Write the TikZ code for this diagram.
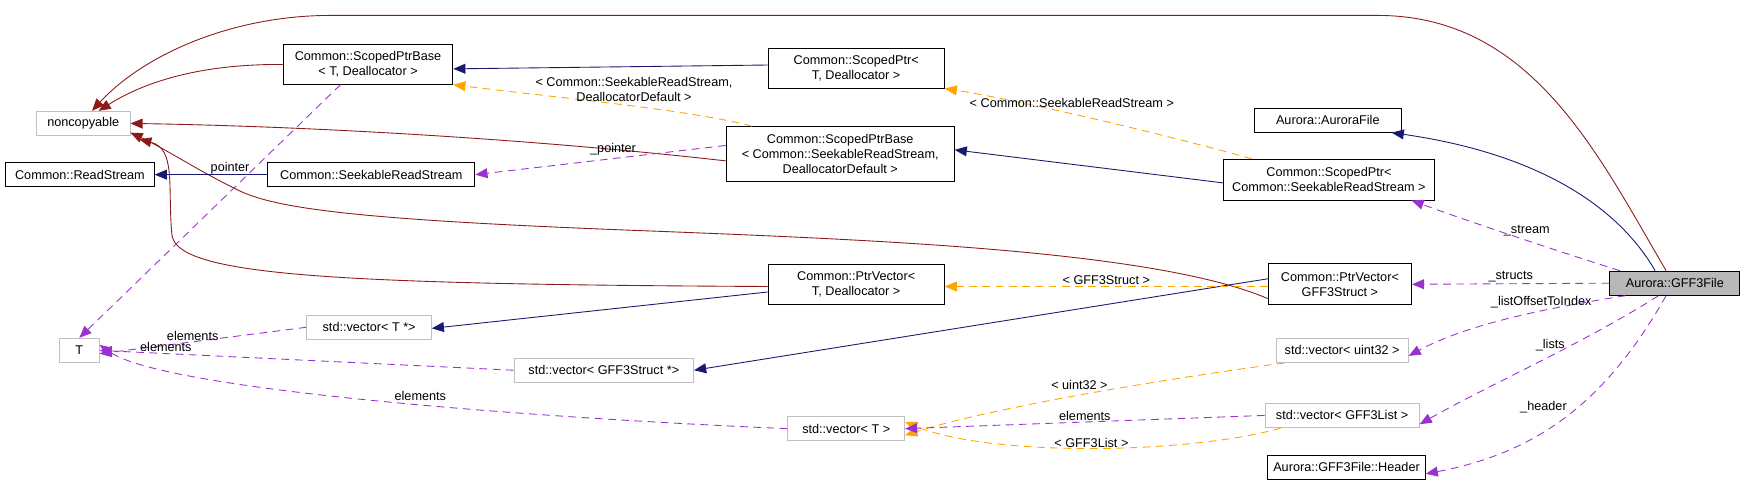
\documentclass[tikz,border=0pt]{standalone}
\usepackage{fontspec}
\setmainfont{Liberation Sans}
\usetikzlibrary{arrows.meta}
\definecolor{inhc}{HTML}{8B1A1A}
\definecolor{navyc}{HTML}{191970}
\definecolor{usec}{HTML}{9A32CD}
\definecolor{tplc}{HTML}{FFA500}
\begin{document}
\begin{tikzpicture}[x=1pt,y=-1pt,
  every node/.style={font=\fontsize{11.5}{13.5}\selectfont},
  box/.style={draw=black,thick,align=center,inner sep=0pt,minimum height=22pt},
  gbox/.style={box,draw=black!25},
  inh/.style={draw=inhc,thick,-{Triangle[length=11pt,width=9pt]}},
  nav/.style={draw=navyc,thick,-{Triangle[length=11pt,width=9pt]}},
  use/.style={draw=usec,thick,dashed,dash pattern=on 7pt off 5pt,-{Triangle[length=11pt,width=9pt]}},
  tpl/.style={draw=tplc,thick,dashed,dash pattern=on 7pt off 5pt,-{Triangle[length=11pt,width=9pt]}},
  lbl/.style={inner sep=1pt}]
\useasboundingbox (0,0) rectangle (1580,438);
\node[gbox,minimum width=85pt] (nc) at (75.5,112) {noncopyable};
\node[box,minimum width=135pt] (rs) at (72.5,158.5) {Common::ReadStream};
\node[gbox,minimum width=36pt] (T) at (72,318) {T};
\node[box,minimum width=154pt,minimum height=36pt] (spbT) at (334,58.5) {Common::ScopedPtrBase\\< T, Deallocator >};
\node[box,minimum width=188pt] (srs) at (337,158.5) {Common::SeekableReadStream};
\node[box,minimum width=160pt,minimum height=36pt] (spT) at (777,62) {Common::ScopedPtr<\\T, Deallocator >};
\node[box,minimum width=207pt,minimum height=50pt] (spbS) at (762.5,140) {Common::ScopedPtrBase\\< Common::SeekableReadStream,\\DeallocatorDefault >};
\node[box,minimum width=134pt] (af) at (1205,109) {Aurora::AuroraFile};
\node[box,minimum width=191pt,minimum height=37pt] (spS) at (1206,163) {Common::ScopedPtr<\\Common::SeekableReadStream >};
\node[box,minimum width=160pt,minimum height=36pt] (pvT) at (777,258) {Common::PtrVector<\\T, Deallocator >};
\node[box,minimum width=130pt,minimum height=37pt] (pvS) at (1216,258) {Common::PtrVector<\\GFF3Struct >};
\node[box,fill=black!28,minimum width=118pt] (gff) at (1520,257) {Aurora::GFF3File};
\node[gbox,minimum width=113pt] (vTp) at (335,297) {std::vector< T *>};
\node[gbox,minimum width=163pt] (vSp) at (548,336) {std::vector< GFF3Struct *>};
\node[gbox,minimum width=120pt] (vU) at (1218,318) {std::vector< uint32 >};
\node[gbox,minimum width=106pt] (vT) at (768,389) {std::vector< T >};
\node[gbox,minimum width=140pt] (vL) at (1218,377) {std::vector< GFF3List >};
\node[box,minimum width=143pt] (hd) at (1222,424) {Aurora::GFF3File::Header};
% inheritance to noncopyable
\draw[inh] ([xshift=-8]gff.north) .. controls (1450,140) and (1390,14) .. (1250,14) -- (300,14) .. controls (210,14) and (130,50) .. ([xshift=8]nc.north);
\draw[inh] (spbT.west) .. controls (180,58) and (130,75) .. ([xshift=14]nc.north);
\draw[inh] ([yshift=-6]spbS.west) .. controls (500,128) and (300,115) .. (nc.east);
\draw[inh] ([yshift=-13]pvS.west) .. controls (1050,228) and (800,218) .. (600,210) .. controls (330,200) and (250,190) .. (215,172) .. controls (180,155) and (150,135) .. ([yshift=3]nc.south east);
\draw[inh] ([yshift=-2]pvT.west) .. controls (300,258) and (160,250) .. (156,213) .. controls (152,170) and (160,135) .. ([xshift=8,yshift=-3]nc.south east);
% navy inheritance
\draw[nav] ([yshift=3]spT.west) -- ([yshift=-4]spbT.east);
\draw[nav] (srs.west) -- (rs.east);
\draw[nav] ([yshift=-3]spS.west) -- ([yshift=4]spbS.east);
\draw[nav] ([xshift=-18]gff.north) .. controls (1470,190) and (1400,140) .. ([xshift=58]af.south);
\draw[nav] ([yshift=-7]pvT.west) -- ([yshift=-1]vTp.east);
\draw[nav] ([yshift=5]pvS.west) -- (vSp.east);
% template instances
\draw[tpl] ([xshift=-80]spbS.north) .. controls (630,100) and (500,88) .. (spbT.south east) node[lbl,pos=0.45,above=3pt,align=center] {< Common::SeekableReadStream,\\DeallocatorDefault >};
\draw[tpl] ([xshift=-70]spS.north) .. controls (1050,120) and (920,90) .. (spT.south east) node[lbl,pos=0.55,above=4pt] {< Common::SeekableReadStream >};
\draw[tpl] ([yshift=-2]pvS.west) -- ([yshift=-2]pvT.east) node[lbl,midway,above] {< GFF3Struct >};
\draw[tpl] ([xshift=8]vU.south west) .. controls (1050,345) and (900,370) .. ([yshift=-6]vT.east) node[lbl,pos=0.5,above=4pt] {< uint32 >};
\draw[tpl] ([xshift=15]vL.south west) .. controls (1080,412) and (900,415) .. ([yshift=6]vT.east) node[lbl,pos=0.5,above=-1pt] {< GFF3List >};
% usage
\draw[use] ([xshift=-25]spbT.south) -- (T.north) node[lbl,pos=0.33,left=3pt] {pointer};
\draw[use] ([yshift=8]spbS.west) -- (srs.east) node[lbl,pos=0.45,above=2pt] {\_pointer};
\draw[use] (vTp.west) -- ([yshift=-3]T.east) node[lbl,pos=0.55,above] {elements};
\draw[use] (vSp.west) -- (T.east) node[lbl,pos=0.84,above] {elements};
\draw[use] (vT.west) .. controls (500,380) and (150,355) .. ([yshift=5]T.east) node[lbl,pos=0.45,above=2pt] {elements};
\draw[use] (vL.west) -- (vT.east) node[lbl,midway,above] {elements};
\draw[use] ([xshift=-50]gff.north) .. controls (1420,230) and (1330,200) .. ([xshift=75]spS.south) node[lbl,pos=0.45,above=3pt] {\_stream};
\draw[use] (gff.west) -- (pvS.east) node[lbl,midway,above] {\_structs};
\draw[use] ([xshift=-45]gff.south) .. controls (1400,280) and (1330,295) .. ([yshift=-5]vU.east) node[lbl,pos=0.35,above=1pt] {\_listOffsetToIndex};
\draw[use] ([xshift=-15]gff.south) .. controls (1440,310) and (1350,350) .. ([yshift=-8]vL.east) node[lbl,pos=0.45,above=3pt] {\_lists};
\draw[use] ([xshift=-8]gff.south) .. controls (1460,360) and (1400,410) .. ([yshift=-6]hd.east) node[lbl,pos=0.5,above left] {\_header};
\end{tikzpicture}
\end{document}
